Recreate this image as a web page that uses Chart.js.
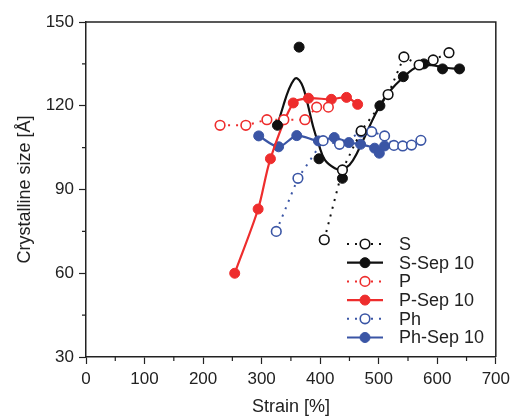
<!DOCTYPE html>
<html>
<head>
<meta charset="utf-8">
<script src="https://cdn.jsdelivr.net/npm/chart.js@4.4.1/dist/chart.umd.min.js"></script>
<style>
  html, body { margin: 0; padding: 0; background: #fff; }
  #wrap { width: 515px; height: 418px; }
</style>
</head>
<body>
<div id="wrap"><canvas id="crystalChart" width="515" height="418"></canvas></div>
<script>
// values: strain [%] vs crystalline size [Å]
const sStrain = [407, 438, 470, 516, 543, 569, 593, 620];
const sSize = [72, 97, 111, 124, 137.5, 134.6, 136.4, 139];

const sSepStrain = [327, 364, 398, 438, 502, 542, 577, 609, 638];
const sSepSize = [113, 141, 101, 94, 120, 130.4, 135, 133.2, 133.2];

// hand-drawn fit through the S-Sep 10 points
const sFitStrain = [327, 337, 346, 355, 361, 368, 374, 380, 388, 397, 408, 425, 436, 450, 464, 484, 501, 518, 543, 566, 590, 615, 638];
const sFitSize = [113, 120, 125.6, 129.3, 129.8, 128, 124.5, 119.5, 112.5, 106.5, 100.6, 97.6, 97.2, 98.8, 103.5, 112.5, 119.7, 125, 130.4, 134, 134.5, 133.6, 133.2];

const pStrain = [229, 273, 309, 338, 374, 394, 414];
const pSize = [113, 113, 115, 115, 115, 119.5, 119.5];

const pSepStrain = [254, 294, 315, 354, 380, 419, 445, 464];
const pSepSize = [60, 83, 101, 121, 122.7, 122.3, 123, 120.5];

const phStrain = [325, 362, 405, 433, 470, 488, 510, 526, 541, 556, 572];
const phSize = [75, 94, 107.5, 106.2, 110.6, 110.7, 109.2, 105.8, 105.6, 105.9, 107.6];

const phSepStrain = [295, 329, 360, 397, 424, 449, 469, 493, 501, 510];
const phSepSize = [109.2, 105.3, 109.3, 107.4, 108.6, 106.8, 106.2, 104.8, 103, 105.6];

const xTicks = [0, 100, 200, 300, 400, 500, 600, 700];
const yTicks = [30, 60, 90, 120, 150];

const BLACK = '#111111';
const RED = '#ee2d2d';
const BLUE = '#3a55a5';
const AXIS = '#222222';
const FONT = "'Liberation Sans', Arial, Helvetica, sans-serif";

const toPoints = (xs, ys) => xs.map((x, i) => ({ x: x, y: ys[i] }));

function openSeries(label, xs, ys, color) {
  return {
    label: label,
    data: toPoints(xs, ys),
    borderColor: color,
    borderWidth: 2,
    borderDash: [2, 6],
    backgroundColor: '#ffffff',
    pointBackgroundColor: '#ffffff',
    pointBorderColor: color,
    pointBorderWidth: 1.6,
    pointRadius: 4.8,
    tension: 0,
    open: true
  };
}

function filledSeries(label, xs, ys, color, showLine) {
  return {
    label: label,
    data: toPoints(xs, ys),
    borderColor: color,
    borderWidth: 2.2,
    borderDash: [],
    backgroundColor: color,
    pointBackgroundColor: color,
    pointBorderColor: color,
    pointBorderWidth: 1,
    pointRadius: 5,
    showLine: showLine,
    tension: 0.3,
    open: false
  };
}

const datasets = [
  openSeries('S', sStrain, sSize, BLACK),
  filledSeries('S-Sep 10', sSepStrain, sSepSize, BLACK, false),
  openSeries('P', pStrain, pSize, RED),
  filledSeries('P-Sep 10', pSepStrain, pSepSize, RED, true),
  openSeries('Ph', phStrain, phSize, BLUE),
  filledSeries('Ph-Sep 10', phSepStrain, phSepSize, BLUE, true),
  {
    label: 'S fit',
    data: toPoints(sFitStrain, sFitSize),
    borderColor: BLACK,
    borderWidth: 2.2,
    pointRadius: 0,
    tension: 0.4,
    fitOnly: true
  }
];

// frame on top/right, short minor ticks, and the legend inside the plot
const frameAndLegend = {
  id: 'frameAndLegend',
  afterDraw(chart) {
    const ctx = chart.ctx;
    const a = chart.chartArea;
    const xs = chart.scales.x;
    const ys = chart.scales.y;
    ctx.save();
    ctx.strokeStyle = AXIS;
    ctx.lineWidth = 1.5;
    ctx.beginPath();
    ctx.moveTo(a.left, a.top);
    ctx.lineTo(a.right, a.top);
    ctx.lineTo(a.right, a.bottom);
    ctx.stroke();

    ctx.lineWidth = 1.2;
    ctx.beginPath();
    for (let v = 50; v < 700; v += 100) {
      const px = xs.getPixelForValue(v);
      ctx.moveTo(px, a.bottom);
      ctx.lineTo(px, a.bottom + 4);
    }
    for (let v = 45; v < 150; v += 30) {
      const py = ys.getPixelForValue(v);
      ctx.moveTo(a.left, py);
      ctx.lineTo(a.left - 4, py);
    }
    ctx.stroke();

    // legend
    const rows = chart.data.datasets.filter(d => !d.fitOnly);
    const x0 = 347, x1 = 383, xm = 365, xt = 399;
    let y = 244;
    ctx.font = '18px ' + FONT;
    ctx.textBaseline = 'middle';
    rows.forEach(d => {
      ctx.strokeStyle = d.borderColor;
      ctx.lineWidth = d.borderWidth;
      ctx.setLineDash(d.open ? [2, 6] : []);
      ctx.beginPath();
      ctx.moveTo(x0, y);
      ctx.lineTo(x1, y);
      ctx.stroke();
      ctx.setLineDash([]);
      ctx.beginPath();
      ctx.arc(xm, y, d.pointRadius, 0, Math.PI * 2);
      ctx.fillStyle = d.pointBackgroundColor;
      ctx.fill();
      ctx.lineWidth = d.pointBorderWidth;
      ctx.strokeStyle = d.pointBorderColor;
      ctx.stroke();
      ctx.fillStyle = '#222222';
      ctx.fillText(d.label, xt, y + 1);
      y += 18.7;
    });
    ctx.restore();
  }
};

new Chart(document.getElementById('crystalChart'), {
  type: 'line',
  data: { datasets: datasets },
  plugins: [frameAndLegend],
  options: {
    responsive: false,
    animation: false,
    devicePixelRatio: 1,
    layout: { padding: { left: 0, right: 16, top: 22, bottom: 0 } },
    plugins: {
      legend: { display: false },
      tooltip: { enabled: false }
    },
    scales: {
      x: {
        type: 'linear',
        min: 0,
        max: 700,
        afterBuildTicks: s => { s.ticks = xTicks.map(v => ({ value: v })); },
        afterFit: s => { s.height = 61; },
        ticks: { font: { family: FONT, size: 17 }, color: '#222222', padding: 5, maxRotation: 0 },
        grid: { drawOnChartArea: false, tickLength: 7, tickColor: AXIS, tickWidth: 1.2 },
        border: { color: AXIS, width: 1.5 },
        title: {
          display: true,
          text: 'Strain [%]',
          font: { family: FONT, size: 18 },
          color: '#222222',
          padding: { top: 0, bottom: 0 }
        }
      },
      y: {
        min: 30,
        max: 150,
        afterBuildTicks: s => { s.ticks = yTicks.map(v => ({ value: v })); },
        afterFit: s => { s.width = 86; },
        ticks: { font: { family: FONT, size: 17 }, color: '#222222', padding: 5 },
        grid: { drawOnChartArea: false, tickLength: 7, tickColor: AXIS, tickWidth: 1.2 },
        border: { color: AXIS, width: 1.5 },
        title: {
          display: true,
          text: 'Crystalline size [Å]',
          font: { family: FONT, size: 18 },
          color: '#222222',
          padding: { top: 14, bottom: 0 }
        }
      }
    }
  }
});
</script>
</body>
</html>
